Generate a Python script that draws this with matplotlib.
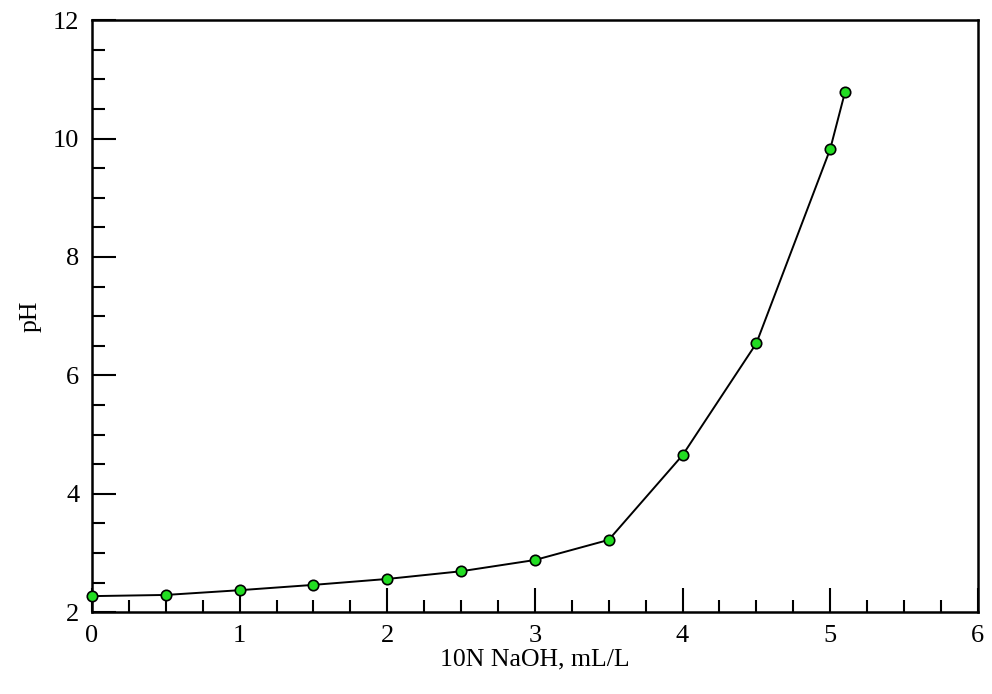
import matplotlib
matplotlib.use("Agg")
import matplotlib.pyplot as plt
from matplotlib.ticker import MultipleLocator

# Titration data
naoh = [0, 0.5, 1, 1.5, 2, 2.5, 3, 3.5, 4, 4.5, 5, 5.1]
ph = [2.27, 2.29, 2.37, 2.46, 2.56, 2.69, 2.88, 3.22, 4.65, 6.54, 9.82, 10.78]

plt.rcParams["font.family"] = ["Liberation Serif", "DejaVu Serif"]

fig = plt.figure(figsize=(9.92, 6.94), dpi=100)
ax = fig.add_axes([0.0927, 0.118, 0.893, 0.853])

ax.plot(naoh, ph, color="black", linewidth=1.4, marker="o", markersize=7.5,
        markerfacecolor="#22dd22", markeredgecolor="black", markeredgewidth=1.2,
        clip_on=False, zorder=3)

ax.set_xlim(0, 6)
ax.set_ylim(2, 12)
ax.xaxis.set_major_locator(MultipleLocator(1))
ax.xaxis.set_minor_locator(MultipleLocator(0.25))
ax.yaxis.set_major_locator(MultipleLocator(2))
ax.yaxis.set_minor_locator(MultipleLocator(0.5))

ax.tick_params(which="both", direction="in", top=False, right=False,
               labelsize=19, color="black", width=1.5)
ax.tick_params(which="major", length=17, pad=9)
ax.tick_params(which="minor", length=9)

for s in ax.spines.values():
    s.set_linewidth(1.8)

ax.set_xlabel("10N NaOH, mL/L", fontsize=18.5, labelpad=1)
ax.set_ylabel("pH", fontsize=18.5, labelpad=8)

fig.savefig("out.png", dpi=100)
